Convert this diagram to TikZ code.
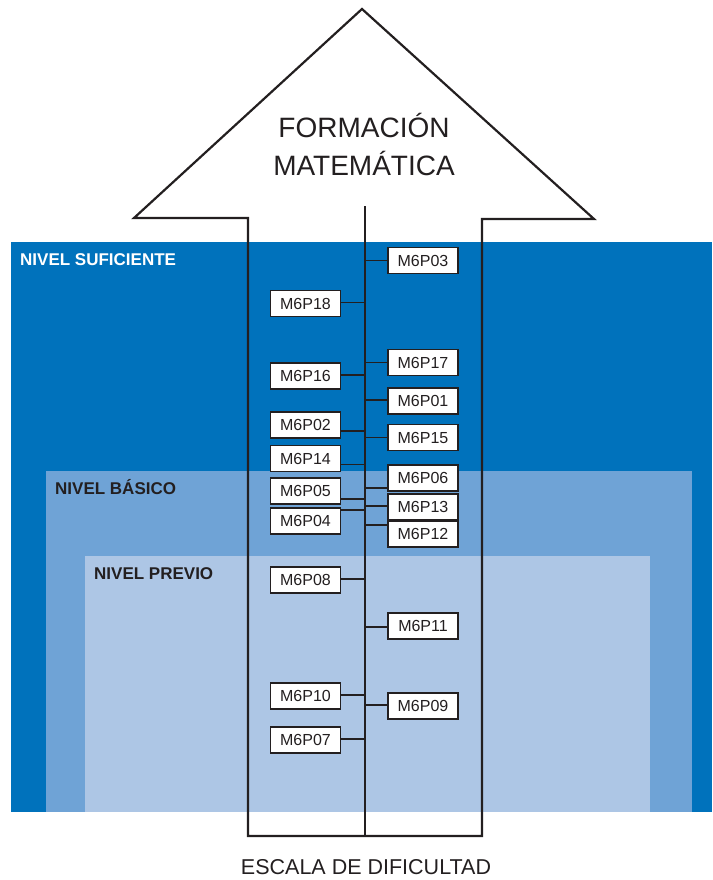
\documentclass[tikz,border=0pt]{standalone}
\usepackage{fontspec}
\setmainfont{Liberation Sans}
\usetikzlibrary{calc}
\definecolor{bdark}{RGB}{0,114,188}
\definecolor{bmid}{RGB}{111,163,214}
\definecolor{blight}{RGB}{173,198,229}
\definecolor{ink}{RGB}{35,31,32}
\tikzset{
  item/.style={draw=ink, line width=1.2pt, fill=white, minimum width=70pt, minimum height=26pt, inner sep=0pt, font=\fontsize{16}{16}\selectfont, text=ink},
  conn/.style={draw=ink, line width=1.3pt},
  outline/.style={draw=ink, line width=2.2pt, line join=miter},
  lvl/.style={anchor=base west, font=\bfseries\fontsize{17}{17}\selectfont, inner sep=0pt}
}
\newcommand\linkto[2]{\path ($(#1)+(0,#2)$) coordinate (tmp); \draw[conn] (tmp) -- (top |- tmp);}
\begin{document}
\begin{tikzpicture}[x=1pt,y=-1pt]
\useasboundingbox (0,0) rectangle (712,880);
% levels
\fill[bdark] (11,242) rectangle (712,812);
\fill[bmid] (46,471) rectangle (692,812);
\fill[blight] (85,556) rectangle (650,812);
\node[lvl, text=white] (n1) at (20,265) {NIVEL SUFICIENTE};
\node[lvl, text=ink] (n2) at (55,494) {NIVEL BÁSICO};
\node[lvl, text=ink] (n3) at (94,579) {NIVEL PREVIO};
% arrow
\draw[outline] (248,836) -- (248,218) -- (134,218) -- (362,9) -- (594,219) -- (482,219) -- (482,836) -- cycle;
\coordinate (top) at (365,206);
\coordinate (bot) at (365,836);
\draw[outline] (top) -- (bot);
\node[font=\fontsize{28}{38}\selectfont, text=ink, align=center, inner sep=0pt] (title) at (364,144) {FORMACIÓN\\MATEMÁTICA};
\node[font=\fontsize{21.5}{21.5}\selectfont, text=ink, anchor=base] (scale) at (366,874) {ESCALA DE DIFICULTAD};
% items
\node[item] (b03) at (423,260.5) {M6P03};
\node[item] (b18) at (305.5,303.5) {M6P18};
\node[item] (b17) at (423,362.5) {M6P17};
\node[item] (b16) at (305.5,376) {M6P16};
\node[item] (b01) at (423,401) {M6P01};
\node[item] (b02) at (305.5,425) {M6P02};
\node[item] (b15) at (423,437.5) {M6P15};
\node[item] (b14) at (305.5,458.5) {M6P14};
\node[item] (b06) at (423,478) {M6P06};
\node[item] (b05) at (305.5,491) {M6P05};
\node[item] (b13) at (423,507) {M6P13};
\node[item] (b04) at (305.5,521) {M6P04};
\node[item] (b12) at (423,534) {M6P12};
\node[item] (b08) at (305.5,580) {M6P08};
\node[item] (b11) at (423,626) {M6P11};
\node[item] (b10) at (305.5,696) {M6P10};
\node[item] (b09) at (423,706) {M6P09};
\node[item] (b07) at (305.5,740) {M6P07};
% connectors
\linkto{b03.west}{0}
\linkto{b18.east}{-1}
\linkto{b17.west}{0}
\linkto{b16.east}{-1}
\linkto{b01.west}{-1}
\linkto{b02.east}{6}
\linkto{b15.west}{0}
\linkto{b14.east}{6}
\linkto{b06.west}{10}
\linkto{b05.east}{8}
\linkto{b13.west}{-1}
\linkto{b04.east}{-11}
\linkto{b12.west}{-9}
\linkto{b08.east}{-1}
\linkto{b11.west}{1}
\linkto{b10.east}{-1}
\linkto{b09.west}{-1}
\linkto{b07.east}{-1}
\end{tikzpicture}
\end{document}
